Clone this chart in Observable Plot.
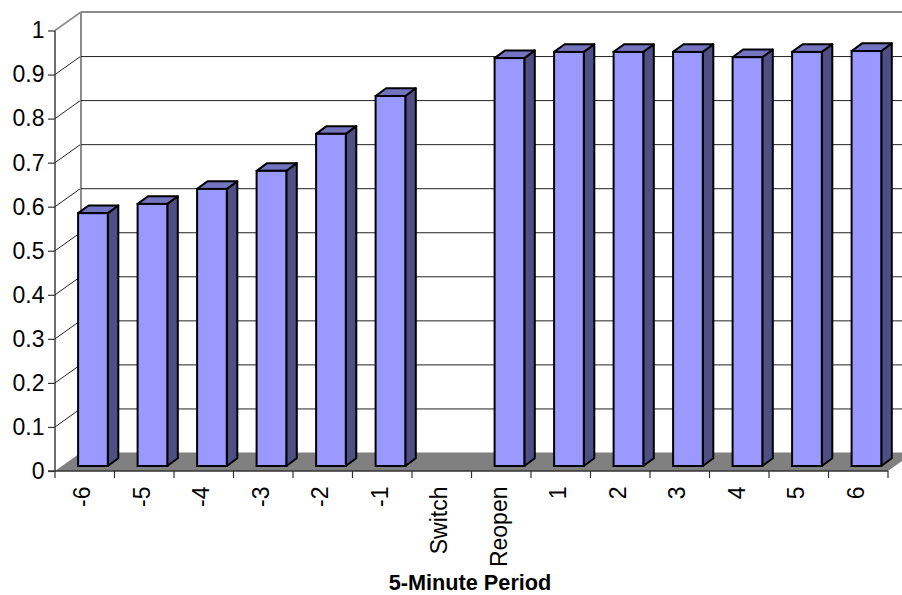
<!DOCTYPE html>
<html>
<head>
<meta charset="utf-8">
<script src="https://cdn.jsdelivr.net/npm/d3@7"></script>
<script src="https://cdn.jsdelivr.net/npm/@observablehq/plot@0.6"></script>
<style>
html,body{margin:0;padding:0;background:#fff;overflow:hidden}
svg{display:block;max-width:none}
</style>
</head>
<body>
<div id="chart"></div>
<script>
const categories = ["-6","-5","-4","-3","-2","-1","Switch","Reopen","1","2","3","4","5","6"];
const values = [0.574,0.595,0.629,0.67,0.754,0.84,null,0.926,0.94,0.94,0.94,0.928,0.94,0.942];
const yTicks = [0,0.1,0.2,0.3,0.4,0.5,0.6,0.7,0.8,0.9,1];
const gridTicks = [0.1,0.2,0.3,0.4,0.5,0.6,0.7,0.8,0.9];
const xTitle = ["5-Minute Period"];
const rows = categories.map((c,i)=>({c,v:values[i]})).filter(d=>d.v!=null);

const FONT = '"Liberation Sans", Arial, sans-serif';
const wallDX = 26, wallDY = 18.5;     // depth of the 3D box
const barShiftX = 8.2, barShiftY = 5; // bar front plane within the box
const barDX = 10.5, barDY = 7.7;      // bar depth
const inset = 14.9;
const dark = "#333";
const barStroke = 2;

function svgG(){ return d3.create("svg:g"); }

// floor, wall edges and diagonals
const walls = (index, {x,y}, values_, {width, marginLeft, marginRight, height}) => {
  const g = svgG();
  const L = marginLeft, R = width - marginRight;
  const y0 = y(0), y1 = y(1);
  g.append("path")
    .attr("d",`M${L},${y0}L${L+wallDX},${y0-wallDY}L${R+wallDX},${y0-wallDY}L${R},${y0}Z`)
    .attr("fill","#808080");
  for (const t of gridTicks) {
    g.append("line").attr("x1",L).attr("y1",y(t)).attr("x2",L+wallDX).attr("y2",y(t)-wallDY)
      .attr("stroke","#222").attr("stroke-width",1);
  }
  g.append("line").attr("x1",L).attr("y1",y1).attr("x2",L+wallDX).attr("y2",y1-wallDY)
    .attr("stroke","#8c8c8c").attr("stroke-width",1.6);
  g.append("line").attr("x1",L+wallDX).attr("y1",y1-wallDY).attr("x2",L+wallDX).attr("y2",y0-wallDY)
    .attr("stroke","#8c8c8c").attr("stroke-width",2);
  g.append("line").attr("x1",L+wallDX).attr("y1",y1-wallDY).attr("x2",width).attr("y2",y1-wallDY)
    .attr("stroke","#8c8c8c").attr("stroke-width",2);
  return g.node();
};

// axes lines and ticks at band edges
const frame = (index, {x,y}, values_, {width, marginLeft, marginRight}) => {
  const g = svgG();
  const L = marginLeft, R = width - marginRight, y0 = y(0), y1 = y(1);
  g.append("line").attr("x1",L).attr("y1",y1).attr("x2",L).attr("y2",y0).attr("stroke",dark).attr("stroke-width",1.4);
  g.append("line").attr("x1",L-7).attr("y1",y0).attr("x2",R).attr("y2",y0).attr("stroke",dark).attr("stroke-width",1.4);
  const edges = categories.map(c=>x(c)).concat(R);
  for (const e of edges) {
    g.append("line").attr("x1",e).attr("y1",y0).attr("x2",e).attr("y2",y0+7).attr("stroke",dark).attr("stroke-width",1.2);
  }
  return g.node();
};

// bar sides and tops
const depth = (index, {x,y}, values_, {width, marginLeft, marginRight}) => {
  const g = svgG();
  const band = (width-marginLeft-marginRight)/categories.length;
  for (const d of rows) {
    const xl = x(d.c)+inset+barShiftX, xr = x(d.c)+band-inset+barShiftX;
    const yt = y(d.v)-barShiftY, yb = y(0)-barShiftY;
    g.append("path")
      .attr("d",`M${xr},${yt}L${xr+barDX},${yt-barDY}L${xr+barDX},${yb-barDY}L${xr},${yb}Z`)
      .attr("fill","#4f4f86").attr("stroke","#000").attr("stroke-width",barStroke).attr("stroke-linejoin","round");
    g.append("path")
      .attr("d",`M${xl},${yt}L${xl+barDX},${yt-barDY}L${xr+barDX},${yt-barDY}L${xr},${yt}Z`)
      .attr("fill","#7373bf").attr("stroke","#000").attr("stroke-width",barStroke).attr("stroke-linejoin","round");
  }
  return g.node();
};

const chart = Plot.plot({
  width: 902,
  height: 595,
  marginLeft: 55,
  marginRight: 14,
  marginTop: 30.5,
  marginBottom: 124,
  style: {background:"#fff", fontFamily: FONT, color:"#000", overflow:"hidden"},
  x: {type:"band", domain: categories, padding: 0, round:false},
  y: {domain:[0,1]},
  marks: [
    walls,
    Plot.ruleY(gridTicks,{dx:wallDX, dy:-wallDY, stroke:"#222", strokeWidth:1}),
    Plot.axisY({ticks:yTicks, tickFormat:d=>String(d), tickSize:7, tickPadding:4, label:null, fontSize:23, stroke:dark, strokeWidth:1.2, fill:"#000"}),
    depth,
    Plot.barY(rows,{x:"c", y:"v", insetLeft:inset, insetRight:inset, dx:barShiftX, dy:-barShiftY, fill:"#9999ff", stroke:"#000", strokeWidth:barStroke}),
    frame,
    Plot.axisX({tickSize:0, tickPadding:15, tickRotate:-90, fontSize:23, label:null, fill:"#000", dx:-2.5}),
    Plot.text(xTitle,{frameAnchor:"bottom", dx:-2, dy:111.5, lineAnchor:"middle", fontSize:21.7, fontWeight:"bold", fill:"#000"})
  ]
});
document.getElementById("chart").appendChild(chart);
</script>
</body>
</html>
